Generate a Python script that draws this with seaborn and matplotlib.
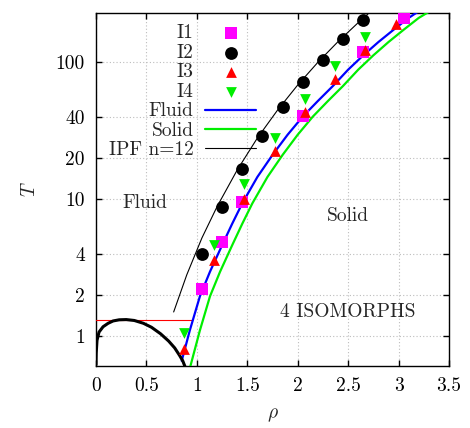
import numpy as np
import pandas as pd
import matplotlib
matplotlib.use("Agg")
import matplotlib.pyplot as plt
import seaborn as sns

# ---- data ----
i1_rho = [1.05, 1.25, 1.45, 2.05, 2.65, 3.05]
i1_T = [2.2, 4.9, 9.5, 40.6, 118, 208]

i2_rho = [1.05, 1.25, 1.45, 1.65, 1.85, 2.05, 2.25, 2.45, 2.65]
i2_T = [4.0, 8.8, 16.7, 29.0, 46.7, 71.5, 103, 147, 203]

i3_rho = [0.87, 1.17, 1.47, 1.77, 2.07, 2.37, 2.67, 2.97]
i3_T = [0.80, 3.6, 10.0, 22.3, 43.5, 75, 123, 188]

i4_rho = [0.87, 1.17, 1.47, 1.77, 2.07, 2.37, 2.67]
i4_T = [1.06, 4.6, 12.8, 28.0, 54, 93, 152]

fluid_rho = [0.85, 0.93, 1.03, 1.13, 1.25, 1.35, 1.45, 1.6, 1.75, 1.9, 2.05, 2.2, 2.35, 2.5, 2.65, 2.8, 2.95, 3.1, 3.2]
fluid_T = [0.66, 1.1, 1.95, 2.95, 4.6, 6.6, 9.3, 14.5, 21.0, 29.5, 40, 52, 67, 88, 112, 140, 172, 210, 235]

solid_rho = [0.935, 1.03, 1.13, 1.23, 1.35, 1.45, 1.55, 1.7, 1.85, 2.0, 2.15, 2.3, 2.45, 2.6, 2.75, 2.9, 3.05, 3.2, 3.31]
solid_T = [0.60, 1.1, 1.95, 2.95, 4.6, 6.6, 9.3, 14.5, 21.0, 29.5, 40, 52, 67, 88, 112, 140, 172, 210, 235]

ipf_rho = [0.77, 0.9, 1.05, 1.2, 1.4, 1.6, 1.8, 2.0, 2.2, 2.4, 2.6, 2.76]
ipf_T = [1.50, 2.80, 5.2, 8.8, 16.3, 27.9, 44.6, 68, 99.6, 141, 194, 247]

dome_rho = [0.0, 0.002, 0.01, 0.03, 0.07, 0.12, 0.17, 0.23, 0.30, 0.38, 0.47, 0.55, 0.64, 0.72, 0.78, 0.83, 0.86, 0.89]
dome_T = [0.62, 0.75, 0.93, 1.07, 1.17, 1.24, 1.29, 1.315, 1.32, 1.30, 1.24, 1.16, 1.04, 0.92, 0.82, 0.72, 0.66, 0.58]

crit_rho = [0.0, 0.95]
crit_T = [1.32, 1.32]

xticks = [0, 0.5, 1, 1.5, 2, 2.5, 3, 3.5]
xticklabels = ["0", "0.5", "1", "1.5", "2", "2.5", "3", "3.5"]
yticks = [1, 2, 4, 10, 20, 40, 100]
yticklabels = ["1", "2", "4", "10", "20", "40", "100"]

# ---- style ----
sns.set_style("ticks")
plt.rcParams["font.family"] = ["cmr10", "DejaVu Serif"]
plt.rcParams["mathtext.fontset"] = "cm"
plt.rcParams["axes.formatter.use_mathtext"] = True
plt.rcParams["axes.unicode_minus"] = False
FS = 14

fig = plt.figure(figsize=(4.70, 4.28), dpi=100)
ax = fig.add_axes([96 / 470, 1 - 366 / 428, (449 - 96) / 470, (366 - 12.5) / 428])

# grid
ax.set_axisbelow(True)
ax.grid(True, which="major", ls=(0, (1, 2)), color="#bdbdbd", lw=0.8)

def line(rho, T, **kw):
    df = pd.DataFrame({"rho": rho, "T": T})
    sns.lineplot(data=df, x="rho", y="T", sort=False, estimator=None, ax=ax, **kw)

def pts(rho, T, **kw):
    df = pd.DataFrame({"rho": rho, "T": T})
    sns.scatterplot(data=df, x="rho", y="T", ax=ax, linewidth=0, **kw)

pts(i1_rho, i1_T, marker="s", s=85, color="#ff00ff", label="I1", zorder=5)
pts(i2_rho, i2_T, marker="o", s=85, color="black", label="I2", zorder=5)
pts(i3_rho, i3_T, marker="^", s=60, color="#ff0000", label="I3", zorder=5)
pts(i4_rho, i4_T, marker="v", s=60, color="#00ee00", label="I4", zorder=5)
line(fluid_rho, fluid_T, color="#0000ff", lw=1.6, label="Fluid", zorder=4)
line(solid_rho, solid_T, color="#00ee00", lw=1.6, label="Solid", zorder=4)
line(ipf_rho, ipf_T, color="black", lw=0.8, label="IPF n=12", zorder=4)
line(dome_rho, dome_T, color="black", lw=2.2, zorder=4)
line(crit_rho, crit_T, color="#ff0000", lw=0.8, zorder=3)

ax.set_yscale("log")
ax.set_xlim(0, 3.5)
ax.set_ylim(0.605, 230)
ax.set_xticks(xticks)
ax.set_xticklabels(xticklabels)
ax.set_yticks(yticks)
ax.set_yticklabels(yticklabels)
ax.yaxis.set_minor_locator(matplotlib.ticker.NullLocator())
ax.tick_params(which="both", direction="in", top=True, right=True, length=4.5, width=1,
               labelsize=FS, pad=8, colors="black")
for sp in ax.spines.values():
    sp.set_color("black")
    sp.set_linewidth(1.0)

ax.set_xlabel(r"$\rho$", fontsize=FS, labelpad=8)
ax.set_ylabel(r"$T$", fontsize=FS, labelpad=12)

ax.text(0.48, 9.4, "Fluid", fontsize=FS, ha="center", va="center")
ax.text(2.5, 7.5, "Solid", fontsize=FS, ha="center", va="center")
ax.text(2.5, 1.5, "4 ISOMORPHS", fontsize=FS, ha="center", va="center")

handles, labels = ax.get_legend_handles_labels()
leg = ax.legend(handles, labels, loc="upper left", bbox_to_anchor=(0.036, 0.966),
                frameon=False, markerfirst=False, fontsize=FS, labelspacing=0.08,
                handlelength=2.6, handletextpad=0.6, borderpad=0, borderaxespad=0,
                scatterpoints=1)

fig.savefig("out.png", dpi=100)
